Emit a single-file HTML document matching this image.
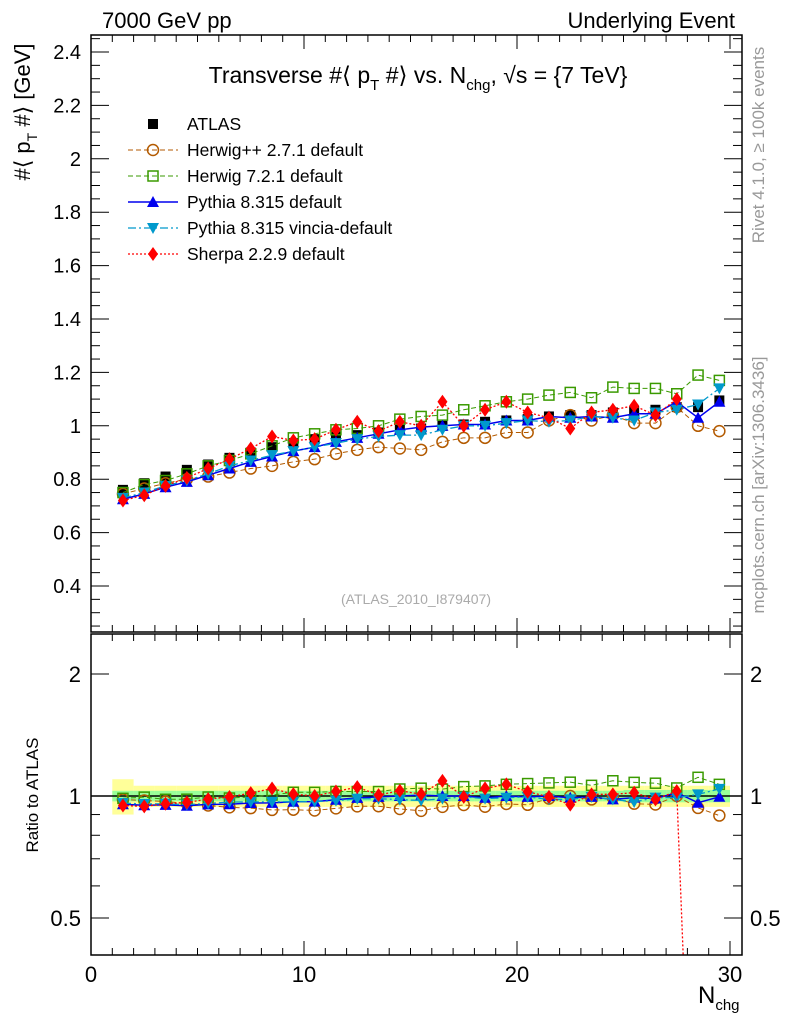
<!DOCTYPE html>
<html><head><meta charset="utf-8"><style>
body{margin:0;background:#fff;overflow:hidden}
svg{display:block;font-family:"Liberation Sans",sans-serif}
</style></head><body>
<svg id="c" width="786" height="1024" xmlns="http://www.w3.org/2000/svg"></svg>
<script>
const xs=[1.5,2.5,3.5,4.5,5.5,6.5,7.5,8.5,9.5,10.5,11.5,12.5,13.5,14.5,15.5,16.5,17.5,18.5,19.5,20.5,21.5,22.5,23.5,24.5,25.5,26.5,27.5,28.5,29.5];
const atlas=[0.76,0.785,0.81,0.835,0.855,0.88,0.90,0.92,0.935,0.95,0.96,0.965,0.975,0.985,0.99,1.0,1.005,1.015,1.02,1.025,1.035,1.04,1.04,1.05,1.055,1.06,1.07,1.07,1.095];
const herwigpp=[0.745,0.765,0.785,0.80,0.81,0.825,0.84,0.85,0.865,0.875,0.895,0.91,0.92,0.915,0.91,0.94,0.955,0.955,0.975,0.975,1.02,1.04,1.02,1.04,1.01,1.01,1.07,1.00,0.98];
const herwig7=[0.75,0.78,0.795,0.82,0.85,0.87,0.895,0.925,0.955,0.97,0.985,0.99,1.0,1.025,1.035,1.04,1.06,1.075,1.09,1.10,1.115,1.125,1.105,1.145,1.14,1.14,1.12,1.19,1.17];
const pythia=[0.725,0.745,0.77,0.79,0.815,0.84,0.865,0.885,0.905,0.92,0.94,0.955,0.97,0.985,0.995,1.0,1.005,1.005,1.02,1.02,1.035,1.03,1.035,1.03,1.045,1.045,1.09,1.03,1.09];
const vincia=[0.73,0.75,0.775,0.795,0.82,0.85,0.87,0.89,0.905,0.92,0.935,0.95,0.96,0.965,0.965,0.985,1.0,1.0,1.01,1.02,1.015,1.02,1.035,1.03,1.02,1.05,1.06,1.08,1.14];
const sherpa=[0.72,0.74,0.775,0.805,0.84,0.875,0.915,0.96,0.945,0.95,0.985,1.015,0.98,1.015,1.0,1.09,1.0,1.06,1.09,1.05,1.03,0.99,1.05,1.06,1.075,1.04,1.10,0.05];
const bandOuter=[0.10,0.06,0.06,0.06,0.06,0.06,0.06,0.06,0.06,0.06,0.06,0.06,0.06,0.06,0.06,0.06,0.06,0.06,0.06,0.06,0.06,0.06,0.06,0.06,0.06,0.06,0.06,0.06,0.06];
const bandInner=[0.03,0.03,0.03,0.03,0.03,0.03,0.03,0.03,0.03,0.03,0.03,0.03,0.03,0.03,0.03,0.03,0.03,0.03,0.03,0.03,0.03,0.03,0.03,0.03,0.035,0.035,0.035,0.035,0.035];
const mainTicks=[0.4,0.6,0.8,1,1.2,1.4,1.6,1.8,2,2.2,2.4];
const mainTickLabels=["0.4","0.6","0.8","1","1.2","1.4","1.6","1.8","2","2.2","2.4"];
const xTicks=[0,10,20,30];
const ratioTicks=[0.5,1,2];

const S=document.getElementById('c');const NS='http://www.w3.org/2000/svg';
function el(t,a,p,name,txt){const e=document.createElementNS(NS,t);for(const k in a)e.setAttribute(k,a[k]);


if(txt!==undefined)e.textContent=txt;(p||S).appendChild(e);return e;}
const L=91,R=742;
const X=v=>91+v*21.3;
const Y=v=>425.8-(v-1)*267;
const YR=v=>796-Math.log2(v)*122;
const T1=35,B1=632,T2=634,B2=955;

const defs=el('defs',{},S,'defs');
const c1=el('clipPath',{id:'c1'},defs,'clip-main');el('rect',{x:L,y:T1,width:R-L,height:B1-T1},c1,'clip-rect');
const c2=el('clipPath',{id:'c2'},defs,'clip-ratio');el('rect',{x:L,y:T2,width:R-L,height:B2-T2},c2,'clip-rect');

const gR=el('g',{'clip-path':'url(#c2)'},S,'ratio-plot');
xs.forEach((x,i)=>{el('rect',{x:X(x-0.5),y:YR(1+bandOuter[i]),width:21.3,height:YR(1-bandOuter[i])-YR(1+bandOuter[i]),fill:'#ffff99'},gR,'band-outer');});
xs.forEach((x,i)=>{el('rect',{x:X(x-0.5),y:YR(1+bandInner[i]),width:21.3,height:YR(1-bandInner[i])-YR(1+bandInner[i]),fill:'#99ff99'},gR,'band-inner');});
el('line',{x1:L,x2:R,y1:YR(1),y2:YR(1),stroke:'#000','stroke-width':1.5},gR,'ratio-unity-line');

const gM=el('g',{'clip-path':'url(#c1)'},S,'main-plot');

function marker(g,type,cx,cy,col,name){
 if(type==='sq')el('rect',{x:cx-5,y:cy-5,width:10,height:10,fill:col},g,name);
 else if(type==='osq')el('rect',{x:cx-5,y:cy-5,width:10,height:10,fill:'none',stroke:col,'stroke-width':1.5},g,name);
 else if(type==='oc')el('circle',{cx:cx,cy:cy,r:5.5,fill:'none',stroke:col,'stroke-width':1.5},g,name);
 else if(type==='tu')el('polygon',{points:`${cx},${cy-6} ${cx-6},${cy+5} ${cx+6},${cy+5}`,fill:col},g,name);
 else if(type==='td')el('polygon',{points:`${cx},${cy+6} ${cx-6},${cy-5} ${cx+6},${cy-5}`,fill:col},g,name);
 else if(type==='dm')el('polygon',{points:`${cx},${cy-7} ${cx-5},${cy} ${cx},${cy+7} ${cx+5},${cy}`,fill:col},g,name);
}
const series=[
 {d:herwigpp,col:'#b35a00',m:'oc',dash:'5,3',w:1,n:'herwigpp'},
 {d:herwig7,col:'#3a9a00',m:'osq',dash:'5,3',w:1,n:'herwig7'},
 {d:pythia,col:'#0000ee',m:'tu',dash:'',w:1.5,n:'pythia'},
 {d:vincia,col:'#0099cc',m:'td',dash:'8,3,2,3',w:1.3,n:'vincia'},
 {d:sherpa,col:'#ff0000',m:'dm',dash:'2,2',w:1.3,n:'sherpa'}];
atlas.forEach((v,i)=>marker(gM,'sq',X(xs[i]),Y(v),'#000','atlas-point'));
series.forEach(s=>{
 const vis=s.d.map((v,i)=>[i,v]).filter(p=>p[1]>0.25);
 const pts=vis.map(p=>X(xs[p[0]])+','+Y(p[1])).join(' ');
 el('polyline',{points:pts,fill:'none',stroke:s.col,'stroke-width':s.w,'stroke-dasharray':s.dash},gM,s.n+'-line');
 vis.forEach(p=>marker(gM,s.m,X(xs[p[0]]),Y(p[1]),s.col,s.n+'-point'));
 const rp=s.d.map((v,i)=>X(xs[i])+','+YR(v/atlas[i])).join(' ');
 el('polyline',{points:rp,fill:'none',stroke:s.col,'stroke-width':s.w,'stroke-dasharray':s.dash},gR,s.n+'-ratio-line');
 s.d.forEach((v,i)=>marker(gR,s.m,X(xs[i]),YR(v/atlas[i]),s.col,s.n+'-ratio-point'));
});

el('rect',{x:L,y:T1,width:R-L,height:B1-T1,fill:'none',stroke:'#000','stroke-width':1.5},S,'main-frame');
el('rect',{x:L,y:T2,width:R-L,height:B2-T2,fill:'none',stroke:'#000','stroke-width':1.5},S,'ratio-frame');
for(let v=0;v<=30;v++){const maj=v%10===0;const l=maj?14:7;
 [[B1,-1],[T1,1],[B2,-1],[T2,1]].forEach(([y,d])=>el('line',{x1:X(v),x2:X(v),y1:y,y2:y+d*l,stroke:'#000'},S,'x-tick'));}
xTicks.forEach(v=>el('text',{x:X(v),y:982,'font-size':22,'text-anchor':'middle'},S,'x-tick-label',String(v)));
for(let v=0.25;v<=2.46;v+=0.05){const maj=Math.abs(v*5-Math.round(v*5))<1e-6;const l=maj?18:9;
 el('line',{x1:L,x2:L+l,y1:Y(v),y2:Y(v),stroke:'#000'},S,'y-tick');el('line',{x1:R,x2:R-l,y1:Y(v),y2:Y(v),stroke:'#000'},S,'y-tick');}
mainTicks.forEach((v,i)=>el('text',{x:81,y:Y(v)+7,'font-size':20,'text-anchor':'end'},S,'y-tick-label',mainTickLabels[i]));
[0.5,0.6,0.7,0.8,0.9,1,2].forEach(v=>{const maj=ratioTicks.includes(v);const l=maj?18:9;
 el('line',{x1:L,x2:L+l,y1:YR(v),y2:YR(v),stroke:'#000'},S,'ratio-tick');el('line',{x1:R,x2:R-l,y1:YR(v),y2:YR(v),stroke:'#000'},S,'ratio-tick');});
ratioTicks.forEach(v=>{el('text',{x:81,y:YR(v)+8,'font-size':22,'text-anchor':'end'},S,'ratio-tick-label',String(v));
 el('text',{x:750,y:YR(v)+8,'font-size':22},S,'ratio-tick-label-right',String(v));});

el('text',{x:102,y:28,'font-size':22},S,'beam-label','7000 GeV pp');
el('text',{x:735,y:28,'font-size':22,'text-anchor':'end'},S,'process-label','Underlying Event');
const tt=el('text',{x:418,y:83,'font-size':23,'text-anchor':'middle'},S,'plot-title');
tt.innerHTML='Transverse #⟨ p<tspan dy="7" font-size="15">T</tspan><tspan dy="-7"> #⟩ vs. N</tspan><tspan dy="7" font-size="15">chg</tspan><tspan dy="-7">, √s = {7 TeV}</tspan>';
const yt=el('text',{transform:'translate(30,112) rotate(-90)','font-size':22,'text-anchor':'middle'},S,'y-axis-title');
yt.innerHTML='#⟨ p<tspan dy="7" font-size="14">T</tspan><tspan dy="-7"> #⟩ [GeV]</tspan>';
el('text',{transform:'translate(38,795) rotate(-90)','font-size':17,'text-anchor':'middle'},S,'ratio-axis-title','Ratio to ATLAS');
const xt=el('text',{x:698,y:1003,'font-size':24},S,'x-axis-title');xt.innerHTML='N<tspan dy="7" font-size="15">chg</tspan>';
el('text',{x:416,y:604,'font-size':14,fill:'#aaa','text-anchor':'middle'},S,'analysis-id','(ATLAS_2010_I879407)');
el('text',{transform:'translate(764,145) rotate(-90)','font-size':17,fill:'#999','text-anchor':'middle'},S,'rivet-label','Rivet 4.1.0, ≥ 100k events');
el('text',{transform:'translate(764,485) rotate(-90)','font-size':17,fill:'#999','text-anchor':'middle'},S,'mcplots-label','mcplots.cern.ch [arXiv:1306.3436]');

const leg=[['ATLAS','sq','#000','',1],['Herwig++ 2.7.1 default','oc','#b35a00','5,3',1],['Herwig 7.2.1 default','osq','#3a9a00','5,3',1],
['Pythia 8.315 default','tu','#0000ee','',1.5],['Pythia 8.315 vincia-default','td','#0099cc','8,3,2,3',1.3],['Sherpa 2.2.9 default','dm','#ff0000','2,2',1.3]];
leg.forEach((e,i)=>{const y=124+i*26;const g=el('g',{},S,'legend-entry');
 if(i>0)el('line',{x1:128,x2:178,y1:y,y2:y,stroke:e[2],'stroke-width':e[4],'stroke-dasharray':e[3]},g,'legend-line');
 marker(g,e[1],153,y,e[2],'legend-marker');
 el('text',{x:187,y:y+6,'font-size':17.5},g,'legend-label',e[0]);});
</script>
</body></html>
